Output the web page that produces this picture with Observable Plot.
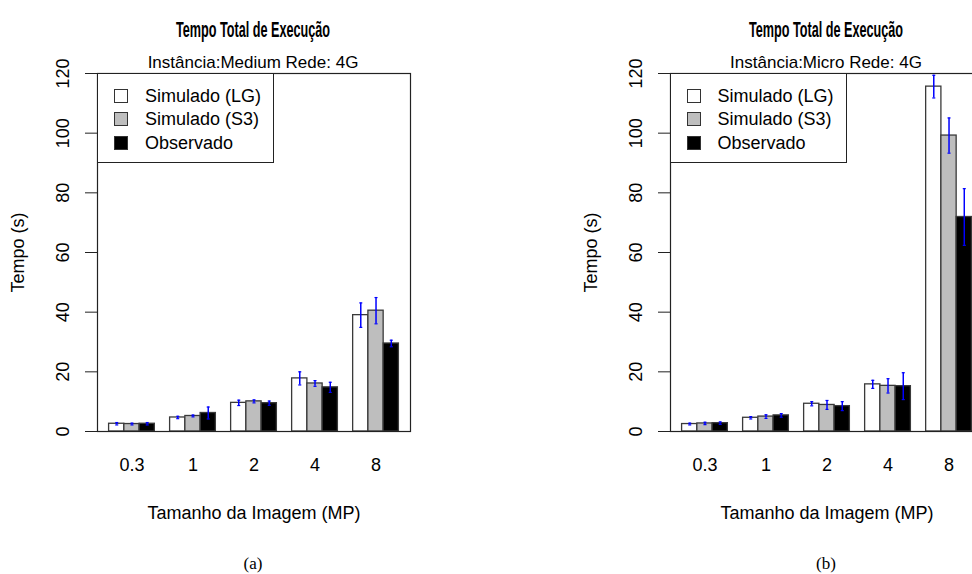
<!DOCTYPE html>
<html><head><meta charset="utf-8">
<script src="https://cdn.jsdelivr.net/npm/d3@7"></script>
<script src="https://cdn.jsdelivr.net/npm/@observablehq/plot@0.6"></script>
<style>
body{margin:0;background:#fff;}
#root{position:relative;width:972px;height:574px;overflow:hidden;font-family:"Liberation Sans",Arial,sans-serif;background:#fff;}
.panel{position:absolute;top:0;width:486px;height:574px;}
.panel > svg.plot{position:absolute;left:0;top:0;}
.overlay{position:absolute;left:0;top:0;pointer-events:none;}
.legend{position:absolute;left:97px;top:73px;width:177px;height:90px;box-sizing:border-box;border:1px solid #222;background:#fff;}
.legend .row{position:absolute;left:0;height:20px;display:flex;align-items:center;font-size:18px;color:#000;white-space:nowrap;}
.legend .sw{position:absolute;left:16px;width:14px;height:14px;border:1px solid #333;box-sizing:border-box;}
.legend .lab{position:absolute;left:47px;line-height:20px;}
</style></head><body><div id="root"></div>
<script>
// ---- data ----
const sizes = ["0.3", "1", "2", "4", "8"];
const seriesNames = ["Simulado (LG)", "Simulado (S3)", "Observado"];
const seriesFills = ["#FFFFFF", "#BEBEBE", "#000000"];
const yTicks = [0, 20, 40, 60, 80, 100, 120];

// Instância: Medium
const mediumLG = [2.6, 4.7, 9.6, 17.8, 39.0];
const mediumLGErr = [0.4, 0.4, 0.9, 2.2, 4.1];
const mediumS3 = [2.5, 5.2, 10.1, 16.1, 40.5];
const mediumS3Err = [0.3, 0.3, 0.5, 0.95, 4.4];
const mediumObs = [2.6, 6.2, 9.5, 14.8, 29.5];
const mediumObsErr = [0.4, 2.0, 0.7, 1.7, 1.1];

// Instância: Micro
const microLG = [2.5, 4.6, 9.3, 15.8, 115.6];
const microLGErr = [0.3, 0.4, 0.7, 1.35, 3.8];
const microS3 = [2.7, 5.0, 8.9, 15.3, 99.2];
const microS3Err = [0.4, 0.6, 1.5, 2.4, 5.9];
const microObs = [2.8, 5.4, 8.5, 15.2, 71.9];
const microObsErr = [0.4, 0.6, 1.5, 4.5, 9.5];

const title = "Tempo Total de Execução";
const subtitles = ["Instância:Medium Rede: 4G", "Instância:Micro Rede: 4G"];
const captions = ["(a)", "(b)"];
const xLabel = "Tamanho da Imagem (MP)";
const yLabel = "Tempo (s)";

function buildRows(vals, errs) {
  return sizes.flatMap((s, gi) => seriesNames.map((n, si) => ({
    size: s, series: n, fill: seriesFills[si],
    value: vals[si][gi], err: errs[si][gi],
    pos: gi * 4 + si + 1
  })));
}

function makePanel(vals, errs, subtitle, caption, left) {
  const rows = buildRows(vals, errs);
  const W = 486, H = 574;
  const visW = Math.min(W, 972 - left);
  const plot = Plot.plot({
    width: W, height: H,
    marginLeft: 97, marginRight: 76, marginTop: 73, marginBottom: 143,
    x: {domain: [0.24, 20.76], axis: null},
    y: {domain: [0, 120], axis: null},
    style: {fontFamily: '"Liberation Sans", Arial, sans-serif', fontSize: "18px", background: "transparent", overflow: "visible", color: "#000"},
    marks: [
      Plot.rect(rows, {x1: "pos", x2: d => d.pos + 1, y1: 0, y2: "value", fill: "fill", stroke: "#3a3a3a", strokeWidth: 1.3}),
      Plot.ruleX(rows, {x: d => d.pos + 0.5, y1: d => d.value - d.err, y2: d => d.value + d.err, stroke: "#0000ff", strokeWidth: 1.5}),
      Plot.link(rows, {x1: d => d.pos + 0.4, x2: d => d.pos + 0.6, y1: d => d.value + d.err, y2: d => d.value + d.err, stroke: "#0000ff", strokeWidth: 1.2}),
      Plot.link(rows, {x1: d => d.pos + 0.4, x2: d => d.pos + 0.6, y1: d => d.value - d.err, y2: d => d.value - d.err, stroke: "#0000ff", strokeWidth: 1.2}),
      Plot.frame({stroke: "#222", strokeWidth: 1.2}),
      Plot.axisY({ticks: yTicks, tickSize: 12, tickFormat: () => "", label: null, stroke: "#222"}),
      Plot.text(yTicks, {y: d => d, text: d => String(d), frameAnchor: "left", dx: -34, rotate: -90, textAnchor: "middle", lineAnchor: "middle", fontSize: 18, fill: "#000"}),
      Plot.axisX({ticks: sizes.map((s, i) => i * 4 + 2.5), tickSize: 0, tickPadding: 27, tickFormat: d => sizes[Math.round((d - 2.5) / 4)], label: null, fontSize: 18}),
      Plot.text([xLabel], {frameAnchor: "bottom", dy: 82, lineAnchor: "middle", fontSize: 18, fill: "#000"}),
      Plot.text([yLabel], {frameAnchor: "left", dx: -79, rotate: -90, textAnchor: "middle", lineAnchor: "middle", fontSize: 18, fill: "#000"})
    ]
  });
  plot.classList.add("plot");
  const panel = document.createElement("div");
  panel.className = "panel";
  panel.style.left = left + "px";
  panel.appendChild(plot);

  const ov = document.createElementNS("http://www.w3.org/2000/svg", "svg");
  ov.setAttribute("class", "overlay");
  ov.setAttribute("width", visW); ov.setAttribute("height", H);
  ov.innerHTML =
    `<text transform="translate(253,37) scale(0.575,1)" text-anchor="middle" font-family="'Liberation Sans',Arial,sans-serif" font-weight="bold" font-size="22">${title}</text>` +
    `<text x="253" y="68" text-anchor="middle" font-family="'Liberation Sans',Arial,sans-serif" font-size="17">${subtitle}</text>` +
    `<text x="253" y="569" text-anchor="middle" font-family="'Liberation Serif','Times New Roman',serif" font-size="17">${caption}</text>`;
  panel.appendChild(ov);

  const lg = document.createElement("div");
  lg.className = "legend";
  seriesNames.forEach((n, i) => {
    const row = document.createElement("div");
    row.className = "row";
    row.style.top = (12 + i * 23.3) + "px";
    const sw = document.createElement("div");
    sw.className = "sw"; sw.style.background = seriesFills[i];
    const lab = document.createElement("div");
    lab.className = "lab"; lab.textContent = n;
    row.appendChild(sw); row.appendChild(lab);
    lg.appendChild(row);
  });
  panel.appendChild(lg);
  document.getElementById("root").appendChild(panel);
}

makePanel([mediumLG, mediumS3, mediumObs], [mediumLGErr, mediumS3Err, mediumObsErr], subtitles[0], captions[0], 0);
makePanel([microLG, microS3, microObs], [microLGErr, microS3Err, microObsErr], subtitles[1], captions[1], 572.5);
</script>
</body></html>
